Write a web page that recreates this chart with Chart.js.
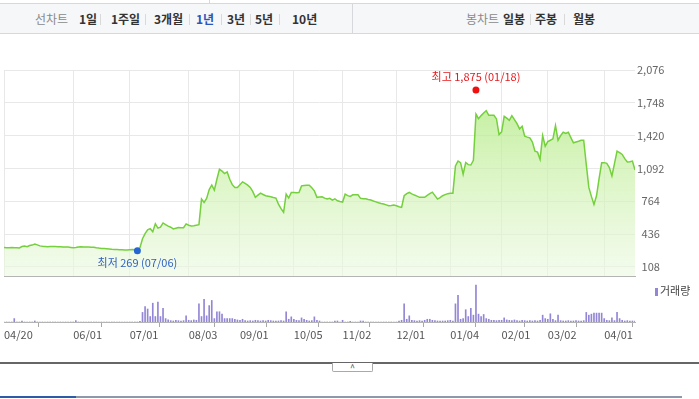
<!DOCTYPE html>
<html>
<head>
<meta charset="utf-8">
<script src="https://cdn.jsdelivr.net/npm/chart.js@4.4.1/dist/chart.umd.min.js"></script>
<style>
  body { margin: 0; width: 699px; height: 399px; overflow: hidden; background: #fff; position: relative;
         font-family: 'Noto Sans CJK KR', sans-serif; }
  .toolbar { position: absolute; left: 0; top: 3px; width: 699px; height: 31px; box-sizing: border-box;
             background: #f6f7f9; border-top: 1px solid #d6d8dc; border-bottom: 1px solid #d6d8dc; }
  .toolbar span { position: absolute; top: 7px; font-size: 12px; line-height: 16px; font-weight: bold; color: #333; white-space: nowrap; }
  .toolbar span.gray { color: #8a8a8a; font-weight: normal; }
  .toolbar span.on { color: #2b55b8; }
  .toolbar i { position: absolute; top: 10px; width: 1px; height: 11px; background: #d9d9d9; }
  .toolbar b.div { position: absolute; top: 0; width: 1px; height: 29px; background: #d6d8dc; }
  .tick0 { position: absolute; left: 209px; top: 0; width: 1px; height: 3px; background: #d6d8dc; }
  #priceWrap { position: absolute; left: 0; top: 0; width: 699px; height: 280px; }
  #volWrap { position: absolute; left: 0; top: 278px; width: 699px; height: 64px; }
  .vlegend { position: absolute; left: 655px; top: 283px; font-size: 11px; line-height: 14px; color: #444; }
  .vlegend em { display: inline-block; width: 3px; height: 8px; background: #9486d6; margin-right: 2px; vertical-align: -1px; }
  .sep { position: absolute; left: 0; top: 362px; width: 699px; height: 2px; background: #666; }
  .toggle { position: absolute; left: 332px; top: 363px; width: 39px; height: 8px; border: 1px solid #a9a9a9; border-top: none;
            border-radius: 0 0 2px 2px; background: #fff; font-size: 9px; line-height: 10px; text-align: center; color: #444; }
  .foot { position: absolute; left: 0; top: 396px; width: 682px; height: 2px; background: #8e98aa; }
  .foot em { position: absolute; left: 0; top: 0; width: 76px; height: 2px; background: #2f5aa6; }
</style>
</head>
<body>
<div class="tick0"></div>
<div class="toolbar">
  <span class="gray" style="left:35px">선차트</span>
  <span style="left:79px">1일</span><i style="left:100px"></i>
  <span style="left:111px">1주일</span><i style="left:145px"></i>
  <span style="left:154px">3개월</span><i style="left:189px"></i>
  <span class="on" style="left:196px">1년</span><i style="left:221px"></i>
  <span style="left:227px">3년</span><i style="left:250px"></i>
  <span style="left:255px">5년</span><i style="left:279px"></i>
  <span style="left:292px">10년</span>
  <b class="div" style="left:352px"></b>
  <span class="gray" style="left:466px">봉차트</span>
  <span style="left:503px">일봉</span><i style="left:530px"></i>
  <span style="left:535px">주봉</span><i style="left:564px"></i>
  <span style="left:573px">월봉</span>
</div>
<div id="priceWrap"><canvas id="priceChart" width="699" height="280"></canvas></div>
<div id="volWrap"><canvas id="volChart" width="699" height="64"></canvas></div>
<div class="vlegend"><em></em>거래량</div>
<div class="sep"></div>
<div class="toggle">^</div>
<div class="foot"><em></em></div>

<script>
// daily closing prices, one per trading day from 04/20 to mid April
const prices = [
  302, 300, 300, 301, 299, 300, 298, 312, 316, 310,
  322, 326, 336, 328, 318, 314, 312, 310, 311, 312,
  311, 310, 310, 308, 306, 306, 303, 300, 302, 306,
  310, 308, 307, 306, 305, 305, 300, 296, 293, 292,
  290, 288, 285, 283, 282, 280, 279, 278, 277, 280,
  282, 279, 277, 300, 389, 440, 478, 490, 460, 538,
  495, 505, 547, 530, 515, 505, 488, 495, 501, 500,
  500, 538, 525, 518, 520, 525, 530, 786, 753, 793,
  880, 925, 875, 984, 1083, 1065, 1040, 1057, 984, 930,
  902, 902, 930, 958, 942, 925, 902, 860, 803, 825,
  845, 832, 819, 815, 809, 802, 796, 736, 690, 654,
  835, 796, 852, 852, 850, 852, 918, 922, 925, 925,
  900, 868, 803, 806, 809, 795, 786, 793, 776, 789,
  769, 762, 756, 835, 820, 813, 829, 829, 829, 793,
  790, 789, 782, 776, 766, 758, 749, 742, 736, 728,
  719, 722, 726, 719, 710, 703, 819, 840, 852, 838,
  826, 815, 803, 803, 803, 823, 840, 855, 820, 786,
  800, 819, 830, 840, 845, 845, 1117, 1166, 1150, 1034,
  1150, 1130, 1126, 1173, 1636, 1590, 1620, 1646, 1669, 1623,
  1623, 1623, 1587, 1431, 1458, 1613, 1595, 1573, 1620, 1580,
  1540, 1487, 1513, 1414, 1405, 1398, 1355, 1265, 1255, 1183,
  1421, 1315, 1360, 1374, 1388, 1520, 1374, 1420, 1454, 1441,
  1454, 1400, 1348, 1356, 1364, 1374, 1374, 1133, 902, 813,
  733, 819, 990, 1150, 1150, 1143, 1100, 1017, 1140, 1265,
  1250, 1232, 1190, 1156, 1160, 1166, 1077
];

// trading volume (relative units) for the same days
const volumes = [
  0, 0, 0, 0, 10, 0, 0, 3, 0, 0,
  0, 0, 3, 0, 0, 0, 0, 0, 0, 0,
  0, 0, 0, 0, 0, 0, 0, 0, 4, 0,
  0, 0, 0, 0, 0, 0, 0, 0, 0, 0,
  0, 0, 0, 0, 0, 0, 0, 0, 0, 0,
  0, 0, 0, 2, 28, 45, 38, 16, 55, 16,
  58, 16, 40, 10, 6, 4, 3, 5, 4, 3,
  4, 18, 5, 4, 6, 5, 53, 16, 66, 18,
  48, 63, 10, 30, 30, 23, 10, 10, 10, 10,
  8, 6, 5, 8, 4, 3, 4, 3, 5, 4,
  3, 4, 3, 5, 4, 3, 3, 3, 4, 3,
  30, 8, 15, 8, 5, 4, 12, 8, 5, 3,
  4, 15, 5, 3, 0, 0, 0, 0, 0, 3,
  3, 0, 5, 0, 0, 2, 0, 0, 0, 3,
  3, 0, 0, 0, 0, 0, 0, 0, 0, 0,
  0, 0, 0, 0, 3, 5, 53, 8, 18, 5,
  4, 3, 4, 3, 5, 8, 8, 5, 4, 3,
  3, 3, 3, 4, 5, 3, 53, 78, 8, 10,
  36, 16, 40, 20, 108, 23, 16, 22, 10, 8,
  5, 5, 4, 5, 5, 12, 6, 5, 4, 6,
  4, 3, 5, 4, 3, 4, 3, 4, 3, 5,
  20, 10, 8, 24, 8, 4, 20, 4, 3, 3,
  4, 3, 3, 4, 3, 3, 4, 28, 20, 23,
  26, 26, 26, 26, 10, 5, 4, 12, 4, 28,
  10, 5, 3, 4, 3, 3, 3
];

// date ticks: trading-day index and label
const tickIdx = [0, 27, 49, 72, 92, 113, 132, 153, 174, 194, 212, 234];
const tickLabels = ['04/20', '06/01', '07/01', '08/03', '09/01', '10/05', '11/02', '12/01', '01/04', '02/01', '03/02', '04/01'];

const priceTicks = [108, 436, 764, 1092, 1420, 1748, 2076];

const hiIdx = 184, hiVal = 1875, hiText = '최고 1,875 (01/18)';
const loIdx = 52, loVal = 269, loText = '최저 269 (07/06)';

Chart.defaults.font.family = "'Noto Sans CJK KR', sans-serif";
Chart.defaults.font.size = 11;
Chart.defaults.animation = false;

const lastIdx = prices.length - 1;

const markPlugin = {
    id: 'marks',
    afterDatasetsDraw(chart) {
        const { ctx, scales: { x, y } } = chart;
        ctx.save();
        ctx.font = "11px 'Noto Sans CJK KR', sans-serif";
        ctx.textAlign = 'center';
        ctx.textBaseline = 'middle';
        ctx.fillStyle = '#e8191c';
        ctx.fillText(hiText, x.getPixelForValue(hiIdx), y.getPixelForValue(hiVal) - 13);
        ctx.fillStyle = '#2f63c4';
        ctx.fillText(loText, x.getPixelForValue(loIdx), y.getPixelForValue(loVal) + 12);
        ctx.restore();
    }
};

function greenFill(context) {
    const area = context.chart.chartArea;
    if (!area) return 'rgba(180,235,140,0.5)';
    const g = context.chart.ctx.createLinearGradient(0, area.top, 0, area.bottom);
    g.addColorStop(0, 'rgba(170,232,120,0.85)');
    g.addColorStop(0.45, 'rgba(200,240,165,0.7)');
    g.addColorStop(1, 'rgba(236,249,226,0.6)');
    return g;
}

new Chart(document.getElementById('priceChart'), {
    type: 'line',
    data: {
        datasets: [{
            data: prices.map((v, i) => ({ x: i, y: v })),
            borderColor: '#74d03c',
            borderWidth: 1.5,
            backgroundColor: greenFill,
            fill: 'start',
            pointRadius: 0,
            tension: 0,
            order: 2
        }, {
            type: 'scatter',
            data: [{ x: hiIdx, y: hiVal }, { x: loIdx, y: loVal }],
            pointRadius: 3.5,
            pointBackgroundColor: ['#f01010', '#2666d2'],
            pointBorderWidth: 0,
            order: 1
        }]
    },
    options: {
        responsive: false,
        layout: { padding: { top: 70, left: 4, right: 0, bottom: 2.5 } },
        plugins: { legend: { display: false }, tooltip: { enabled: false } },
        scales: {
            x: {
                type: 'linear',
                min: 0,
                max: lastIdx,
                afterBuildTicks: s => { s.ticks = tickIdx.map(v => ({ value: v })); },
                afterFit: s => { s.height = 0; },
                ticks: { display: false },
                grid: { color: '#e8e8e8', drawTicks: false },
                border: { display: true, color: '#b4b4b4', width: 1 }
            },
            y: {
                position: 'right',
                min: 17,
                max: 2076,
                afterBuildTicks: s => { s.ticks = priceTicks.map(v => ({ value: v })); },
                afterFit: s => { s.width = 64; s.paddingTop = 0; s.paddingBottom = 0; },
                ticks: {
                    color: '#666',
                    padding: 2,
                    crossAlign: 'center',
                    callback: v => v.toLocaleString('en-US')
                },
                grid: { color: '#e8e8e8', drawTicks: false },
                border: { display: false }
            }
        }
    },
    plugins: [markPlugin]
});

new Chart(document.getElementById('volChart'), {
    type: 'bar',
    data: {
        datasets: [{
            data: volumes.map((v, i) => ({ x: i, y: v })),
            backgroundColor: '#9486d6',
            barThickness: 1
        }]
    },
    options: {
        responsive: false,
        layout: { padding: { top: 5, left: 4, right: 64, bottom: 0 } },
        plugins: { legend: { display: false }, tooltip: { enabled: false } },
        scales: {
            x: {
                type: 'linear',
                offset: false,
                min: 0,
                max: lastIdx,
                afterBuildTicks: s => { s.ticks = tickIdx.map(v => ({ value: v })); },
                afterFit: s => { s.height = 20; },
                ticks: {
                    color: '#555',
                    align: 'start',
                    padding: 1,
                    maxRotation: 0,
                    autoSkip: false,
                    callback: (v) => tickLabels[tickIdx.indexOf(v)]
                },
                grid: { drawOnChartArea: false, drawTicks: true, tickLength: 5, tickColor: '#a8a8a8' },
                border: { display: true, color: '#b4b4b4', width: 1 }
            },
            y: {
                display: false,
                min: 0,
                max: 114
            }
        }
    }
});
</script>
</body>
</html>
